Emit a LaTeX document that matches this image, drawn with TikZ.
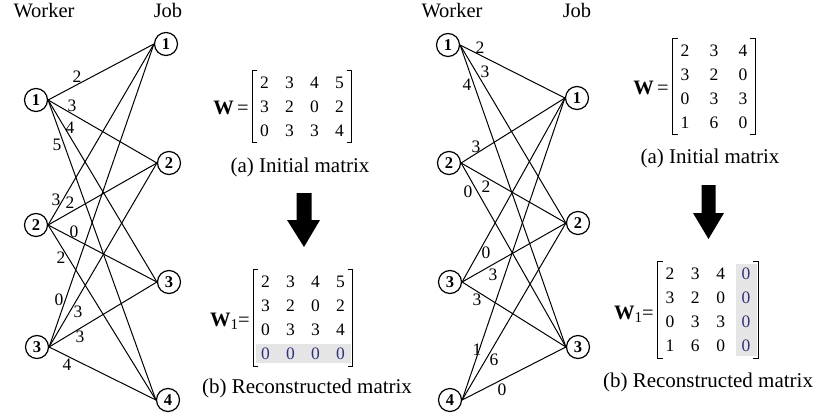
\documentclass[tikz,border=0pt]{standalone}
\usepackage{fontspec}
\setmainfont{Liberation Serif}
\usetikzlibrary{matrix,backgrounds}
\pgfdeclarelayer{bottom}
\pgfsetlayers{bottom,background,main}
\definecolor{zblue}{RGB}{50,50,130}
\definecolor{zgray}{RGB}{229,229,229}
\newcommand{\wlab}{{\bfseries W}}
\newcommand{\wone}{{\bfseries W}\raisebox{-0.3ex}{\fontsize{15}{15}\selectfont 1}}
\begin{document}
\begin{tikzpicture}[x=1pt,y=-1pt,
  vert/.style={circle,draw,line width=1.2pt,minimum size=23pt,inner sep=0pt,font=\fontsize{16.5}{16}\selectfont\bfseries},
  edge/.style={line width=1pt},
  wl/.style={font=\fontsize{17.5}{18}\selectfont,inner sep=0pt},
  hdr/.style={font=\fontsize{20.5}{22}\selectfont,inner sep=0pt,anchor=base},
  captext/.style={font=\fontsize{21}{22}\selectfont,inner sep=0pt},
  mlabel/.style={font=\fontsize{20.5}{22}\selectfont,inner sep=0pt,anchor=east},
  mat/.style={matrix of nodes,inner sep=0pt,row sep=0pt,
    nodes={font=\fontsize{17.5}{18}\selectfont,minimum width=24pt,minimum height=24pt,inner sep=0pt,anchor=center}},
  brk/.style={line width=1.1pt},
  zero/.style={text=zblue},
  bigarrow/.style={fill=black}
]
\begin{pgfonlayer}{bottom}
\fill[white] (0,0) rectangle (819,417);
\end{pgfonlayer}
\useasboundingbox (0,0) rectangle (819,417);

% ---------------- left graph ----------------
\node[hdr] (lhw) at (44,18) {Worker};
\node[hdr] (lhj) at (168,18) {Job};
\node[vert] (lw1) at (36,100) {1};
\node[vert] (lw2) at (36,225) {2};
\node[vert] (lw3) at (37,347) {3};
\node[vert] (lj1) at (166,44) {1};
\node[vert] (lj2) at (169,163) {2};
\node[vert] (lj3) at (169,282) {3};
\node[vert] (lj4) at (168,400) {4};
\foreach \w in {1,2,3}{
  \foreach \j in {1,2,3,4}{
    \draw[edge] (lw\w.east) -- (lj\j.west);
  }
}
\node[wl] (la11) at (77,77) {2};
\node[wl] (la12) at (72,106) {3};
\node[wl] (la13) at (70,128) {4};
\node[wl] (la14) at (57,145) {5};
\node[wl] (la21) at (56,200) {3};
\node[wl] (la22) at (70,203) {2};
\node[wl] (la23) at (74,232) {0};
\node[wl] (la24) at (61,258) {2};
\node[wl] (la31) at (59,300) {0};
\node[wl] (la32) at (78,312) {3};
\node[wl] (la33) at (80,337) {3};
\node[wl] (la34) at (67,365) {4};

% ---------------- left matrices ----------------
\matrix (lmA) [mat,column sep=1pt] at (302,106.5) {
  2 & 3 & 4 & 5 \\
  3 & 2 & 0 & 2 \\
  0 & 3 & 3 & 4 \\
};
\draw[brk] ([xshift=5pt]lmA.north west) -- (lmA.north west) -- (lmA.south west) -- ([xshift=5pt]lmA.south west);
\draw[brk] ([xshift=-5pt]lmA.north east) -- (lmA.north east) -- (lmA.south east) -- ([xshift=-5pt]lmA.south east);
\node[mlabel] (lWA) at (249,108) {\wlab\,=};
\node[captext] (lcapA) at (300,167) {(a) Initial matrix};

\fill[bigarrow] (296.5,193) -- (311.5,193) -- (311.5,220) -- (320,220) -- (304,247) -- (287,220) -- (296.5,220) -- cycle;

\matrix (lmB) [mat,column sep=1pt] at (303,318) {
  2 & 3 & 4 & 5 \\
  3 & 2 & 0 & 2 \\
  0 & 3 & 3 & 4 \\
  |[zero]| 0 & |[zero]| 0 & |[zero]| 0 & |[zero]| 0 \\
};
\begin{scope}[on background layer]
  \fill[zgray] ([shift={(3,-3)}]lmB-4-1.south west) rectangle ([shift={(-2,2)}]lmB-4-4.north east);
\end{scope}
\draw[brk] ([xshift=5pt]lmB.north west) -- (lmB.north west) -- (lmB.south west) -- ([xshift=5pt]lmB.south west);
\draw[brk] ([xshift=-5pt]lmB.north east) -- (lmB.north east) -- (lmB.south east) -- ([xshift=-5pt]lmB.south east);
\node[mlabel] (lWB) at (250,321) {\wone=};
\node[captext] (lcapB) at (307,388) {(b) Reconstructed matrix};

% ---------------- right graph ----------------
\node[hdr] (rhw) at (452,18) {Worker};
\node[hdr] (rhj) at (577,18) {Job};
\node[vert] (rw1) at (448,45) {1};
\node[vert] (rw2) at (449,163) {2};
\node[vert] (rw3) at (450,282) {3};
\node[vert] (rw4) at (450,400) {4};
\node[vert] (rj1) at (577,98) {1};
\node[vert] (rj2) at (578,223) {2};
\node[vert] (rj3) at (578,347) {3};
\foreach \w in {1,2,3,4}{
  \foreach \j in {1,2,3}{
    \draw[edge] (rw\w.east) -- (rj\j.west);
  }
}
\node[wl] (ra11) at (480,48) {2};
\node[wl] (ra12) at (485,72) {3};
\node[wl] (ra13) at (467,85) {4};
\node[wl] (ra21) at (476,147) {3};
\node[wl] (ra22) at (486,187) {2};
\node[wl] (ra23) at (468,192) {0};
\node[wl] (ra31) at (486,253) {0};
\node[wl] (ra32) at (493,275) {3};
\node[wl] (ra33) at (477,300) {3};
\node[wl] (ra41) at (477,350) {1};
\node[wl] (ra42) at (494,360) {6};
\node[wl] (ra43) at (502,390) {0};

% ---------------- right matrices ----------------
\matrix (rmA) [mat,column sep=5pt] at (714,86.5) {
  2 & 3 & 4 \\
  3 & 2 & 0 \\
  0 & 3 & 3 \\
  1 & 6 & 0 \\
};
\draw[brk] ([xshift=5pt]rmA.north west) -- (rmA.north west) -- (rmA.south west) -- ([xshift=5pt]rmA.south west);
\draw[brk] ([xshift=-5pt]rmA.north east) -- (rmA.north east) -- (rmA.south east) -- ([xshift=-5pt]rmA.south east);
\node[mlabel] (rWA) at (669,88) {\wlab\,=};
\node[captext] (rcapA) at (710,158) {(a) Initial matrix};

\fill[bigarrow] (701.5,185) -- (715.5,185) -- (715.5,213) -- (724,213) -- (708.5,239) -- (693,213) -- (701.5,213) -- cycle;

\matrix (rmB) [mat,column sep=1.3pt] at (708,310) {
  2 & 3 & 4 & |[zero]| 0 \\
  3 & 2 & 0 & |[zero]| 0 \\
  0 & 3 & 3 & |[zero]| 0 \\
  1 & 6 & 0 & |[zero]| 0 \\
};
\begin{scope}[on background layer]
  \fill[zgray] ([shift={(2,-2)}]rmB-4-4.south west) rectangle ([shift={(-1,2)}]rmB-1-4.north east);
\end{scope}
\draw[brk] ([xshift=5pt]rmB.north west) -- (rmB.north west) -- (rmB.south west) -- ([xshift=5pt]rmB.south west);
\draw[brk] ([xshift=-5pt]rmB.north east) -- (rmB.north east) -- (rmB.south east) -- ([xshift=-5pt]rmB.south east);
\node[mlabel] (rWB) at (654,314) {\wone=};
\node[captext] (rcapB) at (708,382) {(b) Reconstructed matrix};
\end{tikzpicture}
\end{document}
